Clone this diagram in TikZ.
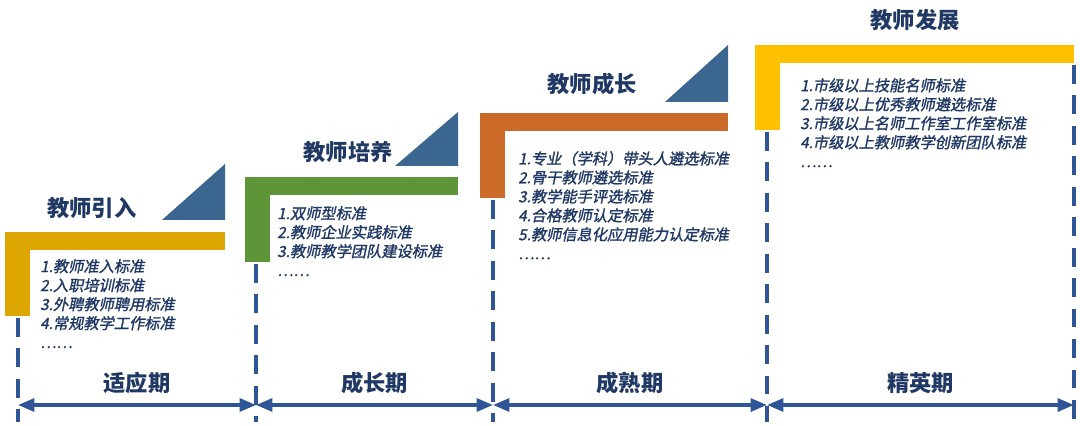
\documentclass[tikz,border=0pt]{standalone}
\usepackage{fontspec}
\setmainfont{Noto Sans CJK SC}
\newfontfamily\cjk{Noto Sans CJK SC}
\newfontfamily\cjkit[FakeSlant=0.2,FakeBold=1.5]{Noto Sans CJK SC}
\usetikzlibrary{arrows.meta}
\definecolor{navy}{HTML}{203864}
\definecolor{axisblue}{HTML}{2F5597}
\definecolor{triblue}{HTML}{3A6690}
\definecolor{gold}{HTML}{DDA600}
\definecolor{leaf}{HTML}{5E9538}
\definecolor{rust}{HTML}{CC6A2A}
\definecolor{amber}{HTML}{FFC000}
\newcommand{\Stage}[6]{% name, x0, y0, x1, y-bottom of post, colour
\fill[#6] (#2,#3) rectangle (#4,#3+18);%
\fill[#6] (#2,#3) rectangle (#2+25,#5);%
}
\begin{document}
\begin{tikzpicture}[x=0.03cm, y=-0.03cm,
title/.style={font=\cjk\bfseries\fontsize{19}{22}\selectfont, text=navy},
items/.style={font=\cjkit\fontsize{13}{16.2}\selectfont, text=navy, anchor=north west, align=left, inner sep=0},
period/.style={font=\cjk\bfseries\fontsize{19}{22}\selectfont, text=navy},
post/.style={axisblue, line width=3pt, dash pattern=on 16pt off 10pt},
span/.style={axisblue, line width=3pt, {Triangle[length=14pt,width=11pt]}-{Triangle[length=14pt,width=11pt]}},
]
\useasboundingbox (0,0) rectangle (1080,426);

%%%%%%%% STUFEN %%%%%%%%
\Stage{S1}{5}{232}{225}{316}{gold}
\Stage{S2}{245}{177}{458}{262}{leaf}
\Stage{S3}{480}{113}{728}{198}{rust}
\Stage{S4}{755}{45}{1074}{130}{amber}
\fill[triblue] (162,220) -- (225,220) -- (225,164) -- cycle;
\fill[triblue] (395,166) -- (458,166) -- (458,112) -- cycle;
\fill[triblue] (665,102) -- (728,102) -- (728,45) -- cycle;

%%%%%%%% TITEL %%%%%%%%
\node[title] (T1) at (92,208) {教师引入};
\node[title] (T2) at (348,152) {教师培养};
\node[title] (T3) at (592,84) {教师成长};
\node[title] (T4) at (915,20) {教师发展};

%%%%%%%% LISTEN %%%%%%%%
\node[items] (L1) at (40,259) {1.教师准入标准\\2.入职培训标准\\3.外聘教师聘用标准\\4.常规教学工作标准\\……};
\node[items] (L2) at (277,206) {1.双师型标准\\2.教师企业实践标准\\3.教师教学团队建设标准\\……};
\node[items] (L3) at (518,151) {1.专业（学科）带头人遴选标准\\2.骨干教师遴选标准\\3.教学能手评选标准\\4.合格教师认定标准\\5.教师信息化应用能力认定标准\\……};
\node[items] (L4) at (800,78) {1.市级以上技能名师标准\\2.市级以上优秀教师遴选标准\\3.市级以上名师工作室工作室标准\\4.市级以上教师教学创新团队标准\\……};

%%%%%%%% ACHSE %%%%%%%%
\coordinate (P0) at (18,405);
\coordinate (P1) at (256,405);
\coordinate (P2) at (493,405);
\coordinate (P3) at (767,405);
\coordinate (P4) at (1074,405);
\draw[post] (18,318) -- (18,422);
\draw[post] (256,264) -- (256,422);
\draw[post] (493,200) -- (493,422);
\draw[post] (767,132) -- (767,422);
\draw[post] (1074,65) -- (1074,422);
\draw[span] (P0) -- (P1) node[period, midway, above=5pt] (A1) {适应期};
\draw[span] (P1) -- (P2) node[period, midway, above=5pt] (A2) {成长期};
\draw[span] (P2) -- (P3) node[period, midway, above=5pt] (A3) {成熟期};
\draw[span] (P3) -- (P4) node[period, midway, above=5pt] (A4) {精英期};
\end{tikzpicture}
\end{document}
